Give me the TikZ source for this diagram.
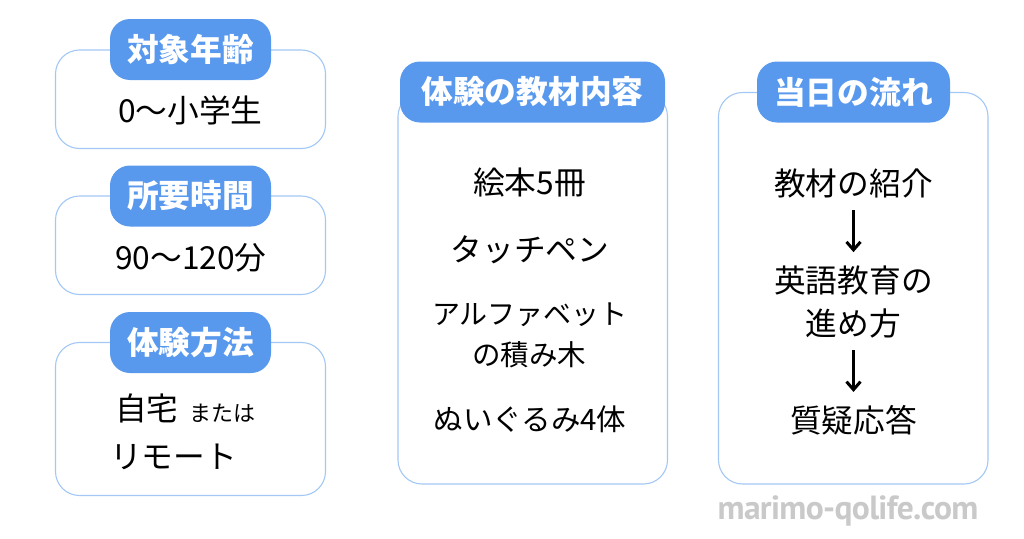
\documentclass[tikz,border=0pt]{standalone}
\usepackage{fontspec}
\setmainfont{Noto Sans CJK JP}
\newfontfamily\wmfont{PT Sans}[BoldFont={* Bold},LetterSpace=-1.9]
\usetikzlibrary{arrows.meta}
\definecolor{hdr}{HTML}{5899EE}
\definecolor{edge}{HTML}{A3C8F5}
\definecolor{wm}{HTML}{C9C9C9}
\tikzset{
  panel/.style={draw=edge,line width=1.1pt,rounded corners=24pt,fill=white},
  head/.style={fill=hdr,rounded corners=20pt,text=white,font=\fontsize{31.7}{34}\selectfont\bfseries,inner sep=0pt,align=center},
  body/.style={text=black,font=\fontsize{#1}{34}\selectfont,inner sep=0pt,align=center},
  body/.default=31.7,
  small/.style={text=black,font=\fontsize{22}{24}\selectfont,inner sep=0pt},
  flow/.style={-{Straight Barb[length=8pt,width=14pt,line width=3pt]},line width=3pt,black,shorten >=13pt,shorten <=12.5pt}
}
\begin{document}
\begin{tikzpicture}[x=1pt,y=-1pt]
\useasboundingbox (0,0) rectangle (1024,538);
\fill[white] (0,0) rectangle (1024,538);
% panels
\draw[panel] (55.5,50) rectangle (325.5,148.5);
\draw[panel] (55.5,196) rectangle (325.5,294.5);
\draw[panel] (55.5,342.5) rectangle (325.5,495.5);
\draw[panel] (398,92.5) rectangle (667.5,484);
\draw[panel] (718.5,92.5) rectangle (988,484);
% headers
\node[head,minimum width=161pt,minimum height=61pt] (h1) at (190.5,49.5) {対象年齢};
\node[head,minimum width=161pt,minimum height=61pt] (h2) at (190.5,196) {所要時間};
\node[head,minimum width=161pt,minimum height=61pt] (h3) at (190.5,342.5) {体験方法};
\node[head,minimum width=265pt,minimum height=61pt] (h4) at (532.5,92) {体験の教材内容};
\node[head,minimum width=193pt,minimum height=61pt] (h5) at (853.5,92) {当日の流れ};
% left bodies
\node[body] (t1) at (190.5,110.5) {0〜小学生};
\node[body] (t2) at (191,257.5) {90〜120分};
\node[body,anchor=west] (t3) at (115,408) {自宅};
\node[small,anchor=west] (t3b) at (189.5,413) {または};
\node[body,anchor=west] (t3c) at (110,457) {リモート};
% middle
\node[body] (m1) at (529.5,183) {絵本5冊};
\node[body] (m2) at (530,250) {タッチペン};
\node[body=28] (m3) at (530,315) {アルファベット};
\node[body=28.5] (m3b) at (529,355) {の積み木};
\node[body=29.5] (m4) at (530,419) {ぬいぐるみ4体};
% right
\node[body] (r1) at (853.5,183) {教材の紹介};
\node[body] (r2) at (853.5,280) {英語教育の};
\node[body] (r2b) at (853.5,323) {進め方};
\node[body] (r3) at (853.5,420) {質疑応答};
\draw[flow] (r1) -- (r2);
\draw[flow] (r2b) -- (r3);
% watermark
\node[text=wm,font=\wmfont\fontsize{33.5}{34}\selectfont\bfseries,inner sep=0pt] (wmk) at (848,511) {marimo-qolife.com};
\end{tikzpicture}
\end{document}
